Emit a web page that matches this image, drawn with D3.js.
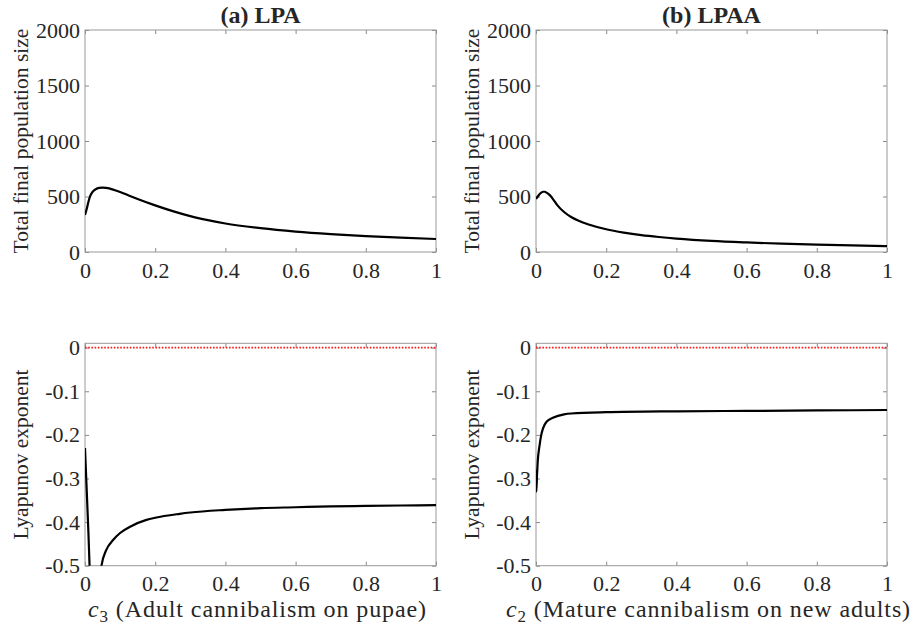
<!DOCTYPE html>
<html>
<head>
<meta charset="utf-8">
<script src="https://cdn.jsdelivr.net/npm/d3@7"></script>
<style>
  body { margin: 0; background: #fff; }
  text { font-family: "Liberation Serif", "Times New Roman", serif; fill: #262626; }
</style>
</head>
<body>
<div id="chart"></div>
<script>
// LPA vs LPAA: final population size and Lyapunov exponent against cannibalism rate

// (a) LPA, c3 = adult cannibalism on pupae
const c3Pop = [0, 0.005, 0.01, 0.015, 0.02, 0.03, 0.04, 0.05, 0.06, 0.08, 0.1, 0.12, 0.15,
               0.2, 0.25, 0.3, 0.35, 0.4, 0.5, 0.6, 0.7, 0.8, 0.9, 1];
const popLPA = [333, 390, 455, 505, 535, 565, 578, 580, 577, 562, 540, 515, 478,
                420, 368, 323, 287, 257, 215, 184, 161, 143, 129, 117];
const c3Lyap = [0, 0.005, 0.01, 0.013, 0.02, 0.03, 0.04, 0.047, 0.06, 0.08, 0.1, 0.13,
                0.175, 0.2, 0.27, 0.3, 0.4, 0.5, 0.6, 0.7, 0.8, 0.9, 1];
const lyapLPA = [-0.23, -0.33, -0.43, -0.5, -0.62, -0.7, -0.62, -0.5, -0.465, -0.441, -0.425, -0.41,
                 -0.395, -0.39, -0.381, -0.378, -0.372, -0.368, -0.366, -0.364, -0.363, -0.362, -0.361];

// (b) LPAA, c2 = mature cannibalism on new adults
const c2Pop = [0, 0.005, 0.01, 0.015, 0.02, 0.025, 0.03, 0.04, 0.05, 0.06, 0.08, 0.1, 0.12,
               0.15, 0.2, 0.25, 0.3, 0.35, 0.4, 0.5, 0.6, 0.7, 0.8, 0.9, 1];
const popLPAA = [478, 500, 520, 535, 543, 543, 535, 510, 470, 425, 360, 315, 283,
                 248, 205, 175, 152, 135, 121, 100, 86, 75, 66, 59, 53];
const c2Lyap = [0, 0.001, 0.003, 0.005, 0.01, 0.015, 0.02, 0.03, 0.05, 0.08, 0.1, 0.2, 0.4, 0.6, 0.8, 1];
const lyapLPAA = [-0.28, -0.33, -0.29, -0.26, -0.225, -0.2, -0.185, -0.17, -0.16, -0.153, -0.151,
                  -0.148, -0.146, -0.145, -0.144, -0.143];

const xTicks = [0, 0.2, 0.4, 0.6, 0.8, 1];
const popTicks = [0, 500, 1000, 1500, 2000];
const lyapTicks = [-0.5, -0.4, -0.3, -0.2, -0.1, 0];

const width = 913, height = 628;

const svg = d3.select("#chart")
    .append("svg")
    .attr("width", width)
    .attr("height", height);

const cols = [{left: 85, right: 436}, {left: 536, right: 887}];
const rows = [{top: 30, bottom: 252}, {top: 343.3, bottom: 565.7}];

const fmt = d => String(Math.round(d * 10) / 10);

function panel(col, row, xs, ys, yDomain, yTicks, opts) {
    const x = d3.scaleLinear().domain([0, 1]).range([col.left, col.right]);
    const y = d3.scaleLinear().domain(yDomain).range([row.bottom, row.top]);
    const g = svg.append("g");
    const id = "clip" + Math.round(col.left) + Math.round(row.top);

    g.append("clipPath").attr("id", id)
        .append("rect")
        .attr("x", col.left).attr("y", row.top)
        .attr("width", col.right - col.left).attr("height", row.bottom - row.top);

    // axes with inward ticks on all four sides
    g.append("g")
        .attr("transform", `translate(0,${row.bottom})`)
        .call(d3.axisBottom(x).tickValues(xTicks).tickFormat(fmt).tickSizeInner(-4).tickSizeOuter(0).tickPadding(10))
        .call(a => a.selectAll("text").style("font-size", "22px").attr("fill", "#262626"));
    g.append("g")
        .attr("transform", `translate(0,${row.top})`)
        .call(d3.axisTop(x).tickValues(xTicks).tickFormat("").tickSizeInner(-4).tickSizeOuter(0));
    g.append("g")
        .attr("transform", `translate(${col.left},0)`)
        .call(d3.axisLeft(y).tickValues(yTicks).tickFormat(opts.yFormat).tickSizeInner(-4).tickSizeOuter(0).tickPadding(5))
        .call(a => a.selectAll("text").style("font-size", "22px").attr("fill", "#262626"));
    g.append("g")
        .attr("transform", `translate(${col.right},0)`)
        .call(d3.axisRight(y).tickValues(yTicks).tickFormat("").tickSizeInner(-4).tickSizeOuter(0));

    g.selectAll(".domain").remove();
    g.selectAll(".tick line").attr("stroke", "#888");

    g.append("rect")
        .attr("x", col.left).attr("y", row.top)
        .attr("width", col.right - col.left).attr("height", row.bottom - row.top)
        .attr("fill", "none").attr("stroke", "#999").attr("stroke-width", 1);

    if (opts.zeroLine) {
        g.append("line")
            .attr("x1", x(0)).attr("x2", x(1))
            .attr("y1", y(0)).attr("y2", y(0))
            .attr("stroke", "#ff1a1a")
            .attr("stroke-width", 1.6)
            .attr("stroke-dasharray", "1.6,1.6");
    }

    const line = d3.line()
        .x((d, i) => x(xs[i]))
        .y(d => y(d))
        .curve(d3.curveMonotoneX);

    g.append("path")
        .datum(ys)
        .attr("clip-path", `url(#${id})`)
        .attr("d", line)
        .attr("fill", "none")
        .attr("stroke", "#000")
        .attr("stroke-width", 2.2);

    return {x, y};
}

panel(cols[0], rows[0], c3Pop, popLPA, [0, 2000], popTicks, {yFormat: d => d});
panel(cols[1], rows[0], c2Pop, popLPAA, [0, 2000], popTicks, {yFormat: d => d});
panel(cols[0], rows[1], c3Lyap, lyapLPA, [-0.5, 0.01], lyapTicks, {yFormat: fmt, zeroLine: true});
panel(cols[1], rows[1], c2Lyap, lyapLPAA, [-0.5, 0.01], lyapTicks, {yFormat: fmt, zeroLine: true});

// panel titles
const titles = ["(a) LPA", "(b) LPAA"];
cols.forEach((c, i) => {
    svg.append("text")
        .attr("x", (c.left + c.right) / 2)
        .attr("y", 23)
        .attr("text-anchor", "middle")
        .style("font-size", "24px")
        .style("font-weight", "bold")
        .attr("fill", "#000")
        .text(titles[i]);
});

// y-axis titles
const yTitles = ["Total final population size", "Lyapunov exponent"];
cols.forEach(c => {
    rows.forEach((r, j) => {
        svg.append("text")
            .attr("transform", `translate(${c.left - 57},${(r.top + r.bottom) / 2}) rotate(-90)`)
            .attr("text-anchor", "middle")
            .style("font-size", "21.5px")
            .text(yTitles[j]);
    });
});

// x-axis titles
const xVars = ["3", "2"];
const xNames = [" (Adult cannibalism on pupae)", " (Mature cannibalism on new adults)"];
cols.forEach((c, i) => {
    const t = svg.append("text")
        .attr("x", (c.left + c.right) / 2 - 3)
        .attr("y", 617)
        .attr("text-anchor", "middle")
        .style("font-size", "24px")
        .style("letter-spacing", "0.9px");
    t.append("tspan").style("font-style", "italic").text("c");
    t.append("tspan").attr("dy", 5).style("font-size", "17px").text(xVars[i]);
    t.append("tspan").attr("dy", -5).text(xNames[i]);
});
</script>
</body>
</html>
